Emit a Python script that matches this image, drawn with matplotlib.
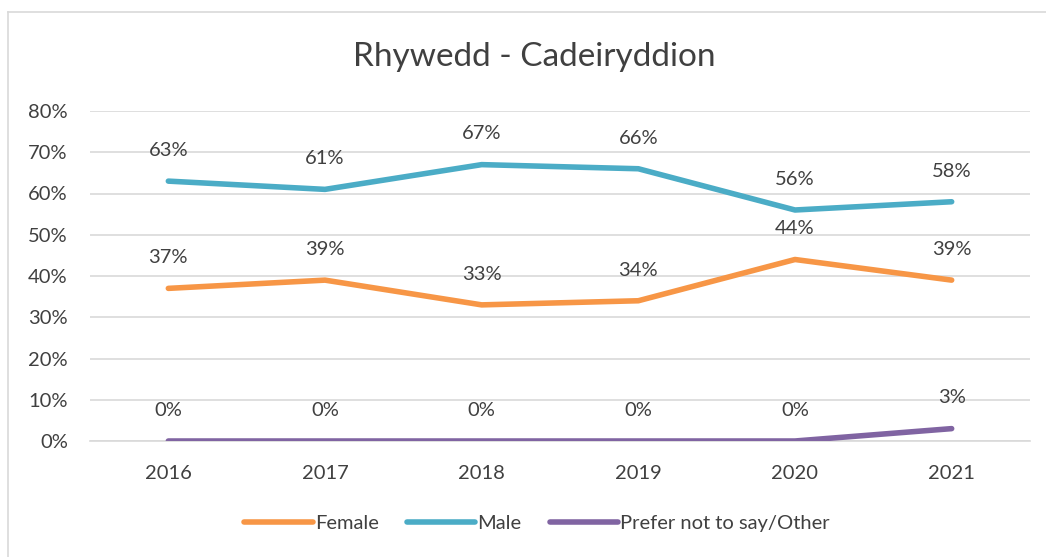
import matplotlib.pyplot as plt
from matplotlib.lines import Line2D

years = ['2016', '2017', '2018', '2019', '2020', '2021']
female = [0.37, 0.39, 0.33, 0.34, 0.44, 0.39]
male = [0.63, 0.61, 0.67, 0.66, 0.56, 0.58]
other = [0.00, 0.00, 0.00, 0.00, 0.00, 0.03]

series = [('Female', female, '#F79646'),
          ('Male', male, '#4BACC6'),
          ('Prefer not to say/Other', other, '#8064A2')]

plt.rcParams['font.family'] = ['Lato', 'DejaVu Sans']
txt = '#404040'

fig = plt.figure(figsize=(10.46, 5.57), dpi=100)
ax = fig.add_axes([90 / 1046, 1 - 441 / 557, (1030 - 90) / 1046, 330 / 557])

# chart frame (top and left edges visible)
fig.add_artist(Line2D([8 / 1046, 1], [1 - 12 / 557, 1 - 12 / 557], color='#D9D9D9', lw=1.2))
fig.add_artist(Line2D([8 / 1046, 8 / 1046], [0, 1 - 12 / 557], color='#D9D9D9', lw=1.2))

x = list(range(len(years)))
for name, vals, col in series:
    ax.plot(x, vals, color=col, lw=4, solid_capstyle='round', label=name, zorder=3)
    for xi, v in zip(x, vals):
        ax.annotate(f'{round(v * 100)}%', (xi, v), xytext=(0, 16), textcoords='offset points',
                    ha='center', va='bottom', fontsize=14.5, color=txt)

ax.set_xlim(-0.5, len(years) - 0.5)
ax.set_ylim(0, 0.8)
ax.set_yticks([i / 10 for i in range(9)])
ax.set_yticklabels([f'{i * 10}%' for i in range(9)])
ax.set_xticks(x)
ax.set_xticklabels(years)
ax.tick_params(axis='both', length=0, labelsize=14.5, labelcolor=txt)
ax.tick_params(axis='y', pad=16)
ax.tick_params(axis='x', pad=17)
ax.grid(axis='y', color='#D9D9D9', lw=1.2)
ax.set_axisbelow(True)
for s in ['top', 'right', 'left']:
    ax.spines[s].set_visible(False)
ax.spines['bottom'].set_color('#D9D9D9')
ax.spines['bottom'].set_linewidth(1.2)

fig.text(534 / 1046, 1 - 57 / 557, 'Rhywedd - Cadeiryddion', ha='center', va='center',
         fontsize=24, color=txt)

leg = ax.legend(loc='center', bbox_to_anchor=(537 / 1046, 1 - 523 / 557),
                bbox_transform=fig.transFigure, ncol=3, frameon=False, fontsize=14.5,
                handlelength=3.4, handletextpad=0.1, columnspacing=1.4)
for t in leg.get_texts():
    t.set_color(txt)

fig.savefig('out.png', dpi=100)
